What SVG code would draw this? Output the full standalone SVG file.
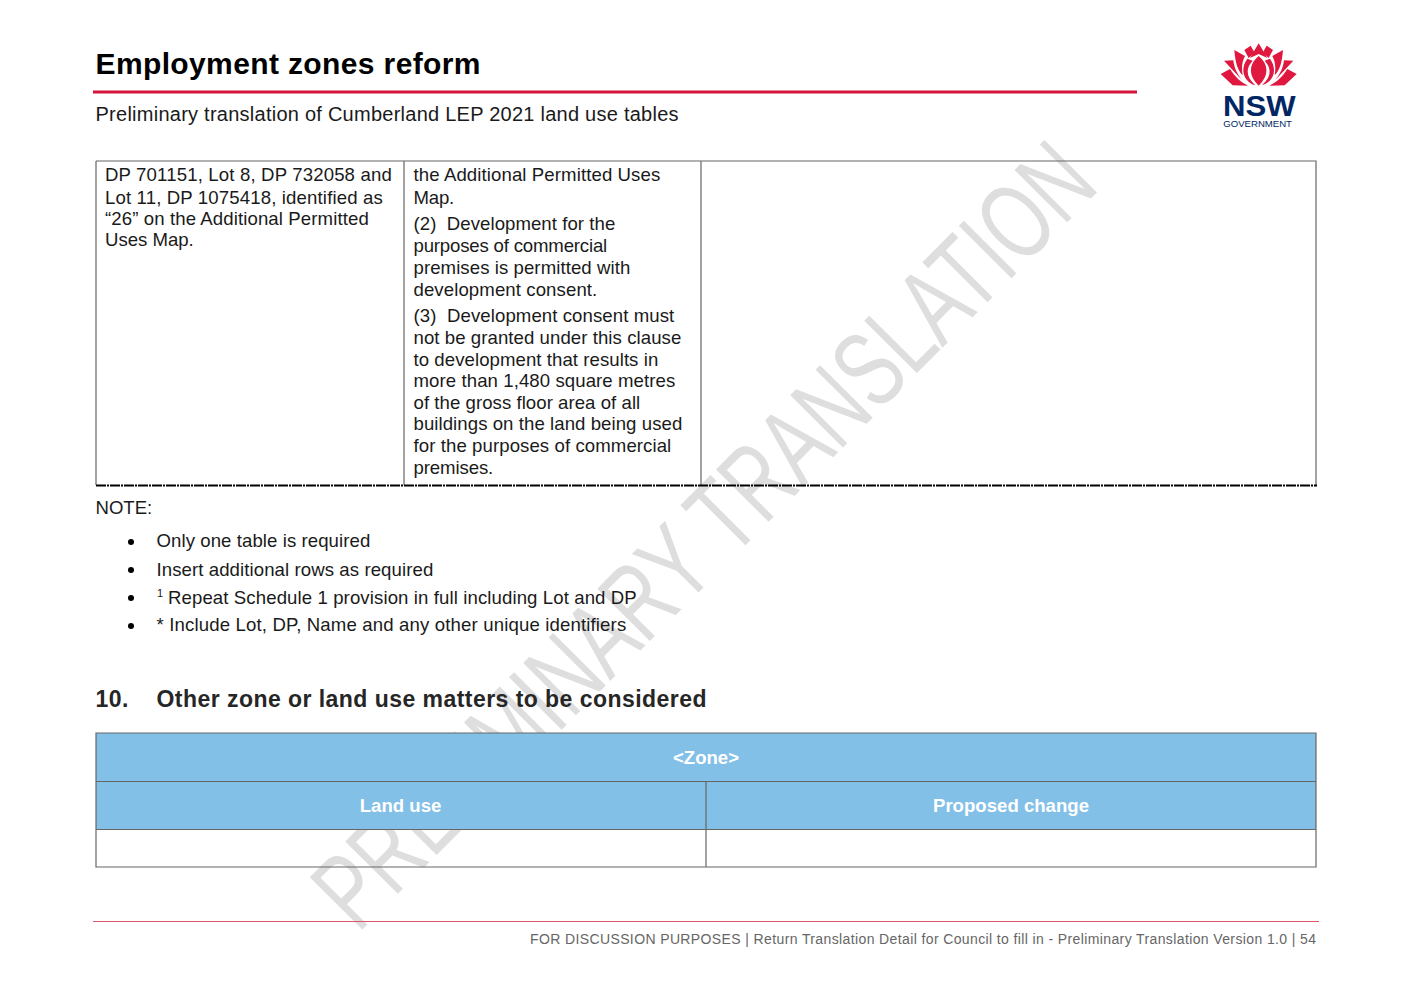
<svg xmlns="http://www.w3.org/2000/svg" width="1412" height="991" viewBox="0 0 1412 991">
<style>
text{font-family:"Liberation Sans",Arial,sans-serif;fill:#1a1a1a}
.b{font-size:18.6px;letter-spacing:.25px}
.h{font-size:18.6px;font-weight:bold;fill:#fff;text-anchor:middle}
.g{fill:none;stroke:#666;stroke-width:1.2}
.p{fill:#e0173f}
</style>
<rect width="1412" height="991" fill="#fff"/>
<text id="watermark" transform="translate(358 934) rotate(-45.1)" font-size="108" textLength="1053" lengthAdjust="spacingAndGlyphs" style="fill:#dedede">PRELIMINARY TRANSLATION</text>
<g id="header">
<text x="95.500" y="74" font-size="30" font-weight="bold" style="fill:#000" textLength="385">Employment zones reform</text>
<rect x="93" y="90.500" width="1044" height="3" fill="#d7153a"/>
<text x="95.500" y="121" font-size="20" textLength="583">Preliminary translation of Cumberland LEP 2021 land use tables</text>
</g>
<g id="logo" transform="translate(1180 30) scale(.3333)">
<path class="p" d="M236 40L262 84L236 72L210 84Z"/>
<path class="p" d="M193 60L212 47L224 68L206 84ZM279 60L260 47L248 68L266 84Z"/>
<path class="p" d="M163 60L195 78C186 95 184 112 188 136C174 122 166 100 163 60ZM309 60L277 78C286 95 288 112 284 136C298 122 306 100 309 60Z"/>
<path class="p" d="M132 92L160 91C162 112 170 130 186 150ZM340 92L312 91C310 112 302 130 286 150Z"/>
<path class="p" d="M122 132L150 117C165 140 180 155 204 167L158 166ZM350 132L322 117C307 140 292 155 268 167L314 166Z"/>
<path class="p" d="M236 78C204 105 206 138 236 167C266 138 268 105 236 78Z"/>
<path class="p" d="M202 86L218 92C196 115 198 142 226 166C192 155 178 120 202 86ZM270 86L254 92C276 115 274 142 246 166C280 155 294 120 270 86Z"/>
<text x="129" y="258" font-size="90" font-weight="bold" style="fill:#002664" textLength="218" lengthAdjust="spacingAndGlyphs">NSW</text>
<text x="130" y="290" font-size="29" style="fill:#002664" textLength="206" lengthAdjust="spacingAndGlyphs">GOVERNMENT</text>
</g>
<g id="table-top">
<path class="g" d="M96 161H1316V485M96 161V485M404 161V485M701 161V485"/>
<path d="M96 485.500H1317" stroke="#000" stroke-width="2" stroke-dasharray="10 1 2 1"/>
<g id="cell-1">
<text x="105" y="181" class="b" textLength="287">DP 701151, Lot 8, DP 732058 and</text>
<text x="105" y="204" class="b" textLength="278">Lot 11, DP 1075418, identified as</text>
<text x="105" y="225" class="b" textLength="264">“26” on the Additional Permitted</text>
<text x="105" y="246" class="b" textLength="89">Uses Map.</text>
</g>
<g id="cell-2">
<text x="413.500" y="181" class="b" textLength="247">the Additional Permitted Uses</text>
<text x="413.500" y="204" class="b" textLength="41">Map.</text>
<text x="413.500" y="230" class="b" textLength="202" xml:space="preserve">(2)  Development for the</text>
<text x="413.500" y="252" class="b" textLength="194">purposes of commercial</text>
<text x="413.500" y="274" class="b" textLength="217">premises is permitted with</text>
<text x="413.500" y="296" class="b" textLength="184">development consent.</text>
<text x="413.500" y="322" class="b" textLength="261" xml:space="preserve">(3)  Development consent must</text>
<text x="413.500" y="344" class="b" textLength="268">not be granted under this clause</text>
<text x="413.500" y="366" class="b" textLength="245">to development that results in</text>
<text x="413.500" y="387" class="b" textLength="262">more than 1,480 square metres</text>
<text x="413.500" y="409" class="b" textLength="227">of the gross floor area of all</text>
<text x="413.500" y="430" class="b" textLength="269">buildings on the land being used</text>
<text x="413.500" y="452" class="b" textLength="258">for the purposes of commercial</text>
<text x="413.500" y="474" class="b" textLength="80">premises.</text>
</g>
</g>
<g id="notes">
<text x="95.500" y="514" class="b" textLength="57">NOTE:</text>
<g fill="#000"><circle cx="131" cy="542" r="3"/><circle cx="131" cy="570" r="3"/><circle cx="131" cy="598" r="3"/><circle cx="131" cy="626" r="3"/></g>
<text x="156.500" y="547" class="b" textLength="214">Only one table is required</text>
<text x="156.500" y="576" class="b" textLength="277">Insert additional rows as required</text>
<text x="157" y="597" font-size="11">1</text>
<text x="168" y="604" class="b" textLength="469">Repeat Schedule 1 provision in full including Lot and DP</text>
<text x="156.500" y="631" class="b" textLength="470">* Include Lot, DP, Name and any other unique identifiers</text>
</g>
<g id="section-10">
<text x="95.500" y="707" font-size="23" font-weight="bold" style="fill:#262626" textLength="33">10.</text>
<text x="156.500" y="707" font-size="23" font-weight="bold" style="fill:#262626" textLength="550">Other zone or land use matters to be considered</text>
</g>
<g id="table-bottom">
<rect x="96" y="733" width="1220" height="97" fill="#82c0e8"/>
<path class="g" d="M96 733H1316V867H96ZM96 781.500H1316M96 829.500H1316M706 781V867"/>
<text x="706" y="764" class="h">&lt;Zone&gt;</text>
<text x="400.500" y="812" class="h">Land use</text>
<text x="1011" y="812" class="h">Proposed change</text>
</g>
<g id="footer">
<rect x="93" y="921" width="1226" height="1" fill="#e0566f"/>
<text x="530" y="944" font-size="14" style="fill:#666" textLength="786">FOR DISCUSSION PURPOSES | Return Translation Detail for Council to fill in - Preliminary Translation Version 1.0 | 54</text>
</g>
</svg>
